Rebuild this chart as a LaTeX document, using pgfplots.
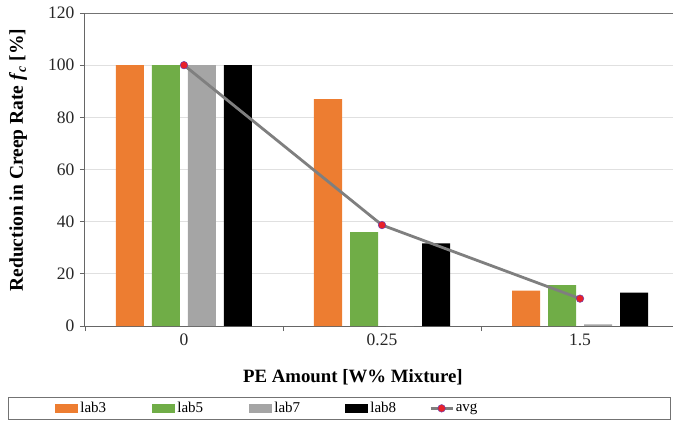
\documentclass[border=0pt]{standalone}
\usepackage{fontspec}
\setmainfont{Liberation Serif}
\usepackage{pgfplots}
\pgfplotsset{compat=1.18}
\definecolor{cthree}{HTML}{ED7D31}
\definecolor{cfive}{HTML}{70AD47}
\definecolor{cseven}{HTML}{A5A5A5}
\definecolor{ceight}{HTML}{000000}
\definecolor{cavg}{HTML}{7F7F7F}
\definecolor{cmark}{HTML}{E8202A}
\definecolor{cmarkedge}{HTML}{6A3FB0}
\pgfplotsset{
  barleg/.style={area legend, legend image code/.code={\fill[##1] (0pt,-4.5pt) rectangle (23pt,4.5pt);}},
  lineleg/.style={legend image code/.code={\draw[##1, line width=2.4pt, mark repeat=2, mark phase=2] plot coordinates {(0pt,0pt) (11pt,0pt) (22pt,0pt)};}},
}
\begin{document}
\begin{tikzpicture}
\begin{axis}[name=ax,
  scale only axis, width=594pt, height=313pt,
  xmin=-0.5, xmax=2.5, ymin=0, ymax=120,
  axis x line*=bottom, axis y line*=left,
  x axis line style={draw=black!60, line width=1pt},
  y axis line style={draw=black!60, line width=1pt},
  tick align=outside, major tick length=5pt,
  tick style={draw=black!60, line width=0.8pt},
  xtick={-0.5,0.5,1.5,2.5}, xticklabels={},
  extra x ticks={0,1,2}, extra x tick labels={0,0.25,1.5},
  extra x tick style={major tick length=0pt},
  ytick={0,20,40,60,80,100},
  extra y ticks={120},
  extra y tick style={grid style={draw=black!55, line width=1pt}},
  ymajorgrids, grid style={draw=black!12, line width=0.8pt},
  /pgf/number format/assume math mode=true,
  ticklabel style={font=\fontsize{17.5}{17.5}\selectfont, text=black!85},
  xticklabel style={yshift=-4pt},
  yticklabel style={xshift=-2pt},
  xlabel={\textbf{PE Amount [W\% Mixture]}},
  xlabel style={at={(axis description cs:0.451,0)}, anchor=center, yshift=-51pt, font=\fontsize{18.8}{18.8}\selectfont},
  ylabel={\textbf{Reduction in Creep Rate \textit{f}\textsubscript{\textit{c}} [\%]}},
  ylabel style={at={(axis description cs:-0.1128,0.53)}, anchor=center, font=\fontsize{19.5}{19.5}\selectfont},
  legend columns=5,
  legend style={at={(axis description cs:-0.1296,-0.2268)}, anchor=north west,
    draw=black!55, line width=0.8pt, inner xsep=47pt, inner ysep=3pt,
    font=\fontsize{15}{15}\selectfont, column sep=0pt,
    nodes={inner xsep=2pt, inner ysep=2pt}},
  legend cell align=left,
]
\addplot[ybar, bar width=28pt, bar shift=-54pt, fill=cthree, draw=none, barleg]
  coordinates {(0,100) (1,87) (2,13.6)};
\addlegendentry{\makebox[70pt][l]{lab3}}
\addplot[ybar, bar width=28pt, bar shift=-18pt, fill=cfive, draw=none, barleg]
  coordinates {(0,100) (1,36) (2,15.7)};
\addlegendentry{\makebox[70pt][l]{lab5}}
\addplot[ybar, bar width=28pt, bar shift=18pt, fill=cseven, draw=none, barleg]
  coordinates {(0,100) (1,0) (2,0.6)};
\addlegendentry{\makebox[69pt][l]{lab7}}
\addplot[ybar, bar width=28pt, bar shift=54pt, fill=ceight, draw=none, barleg]
  coordinates {(0,100) (1,31.7) (2,12.8)};
\addlegendentry{\makebox[57pt][l]{lab8}}
\addplot[sharp plot, draw=cavg, line width=2.8pt, mark=*, mark size=3.8pt,
  mark options={fill=cmark, draw=cmarkedge, line width=0.5pt}, lineleg]
  coordinates {(0,100) (1,38.7) (2,10.5)};
\addlegendentry{\makebox[166pt][l]{avg}}
\end{axis}
\pgfresetboundingbox
\path ([shift={(-85pt,326pt)}]ax.south west) rectangle ([shift={(588pt,-103pt)}]ax.south west);
\end{tikzpicture}
\end{document}
